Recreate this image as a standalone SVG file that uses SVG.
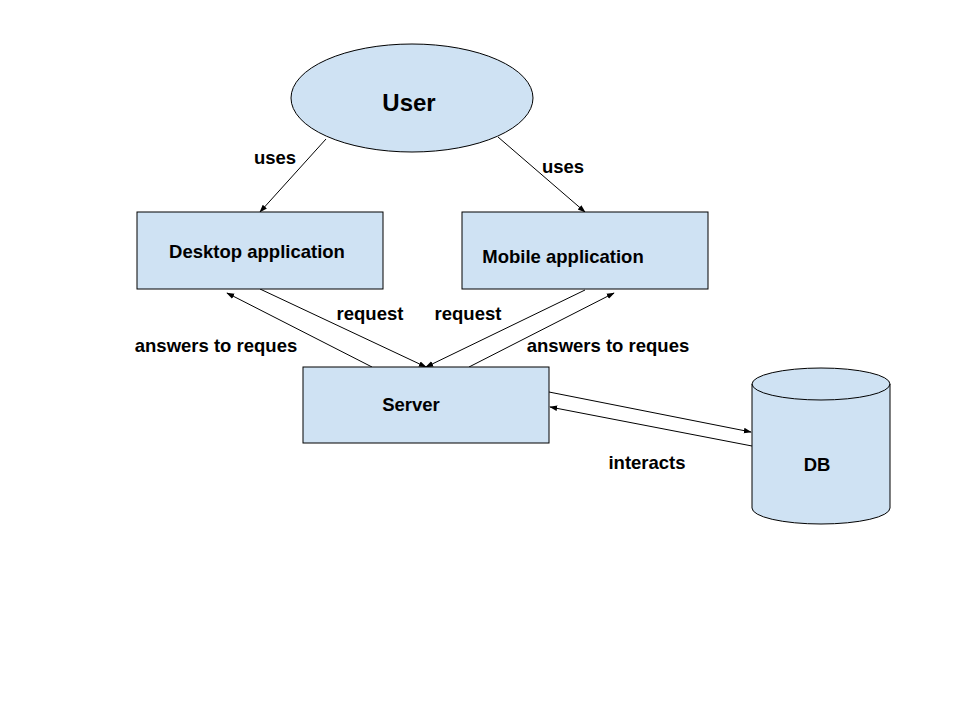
<svg xmlns="http://www.w3.org/2000/svg" width="960" height="720" viewBox="0 0 960 720">
<defs>
<style>
.n{fill:#cfe2f3;stroke:#000;stroke-width:1}
.t{font-family:"Liberation Sans",Arial,sans-serif;font-weight:bold;font-size:18.5px;fill:#000;text-anchor:middle}
.c{stroke:#000;stroke-width:1;fill:none;marker-end:url(#a)}
</style>
<marker id="a" viewBox="0 0 10 10" refX="9" refY="5" markerWidth="8" markerHeight="8" orient="auto" markerUnits="userSpaceOnUse">
<path d="M0,1.5 L10,5 L0,8.5 Z" fill="#000"/>
</marker>
</defs>
<rect width="960" height="720" fill="#fff"/>
<g id="connectors">
<line class="c" x1="326" y1="139" x2="260" y2="212"/>
<line class="c" x1="498" y1="137" x2="585" y2="212"/>
<line class="c" x1="260" y1="289" x2="426" y2="367"/>
<line class="c" x1="372" y1="367" x2="227" y2="293"/>
<line class="c" x1="585" y1="290" x2="426" y2="367"/>
<line class="c" x1="469" y1="367" x2="614" y2="293"/>
<line class="c" x1="549" y1="392" x2="751" y2="432"/>
<line class="c" x1="752" y1="446" x2="550" y2="407"/>
</g>
<g id="user">
<ellipse class="n" cx="412" cy="98" rx="121" ry="54"/>
<text class="t" x="409" y="111" style="font-size:24px">User</text>
</g>
<g id="desktop">
<rect class="n" x="137" y="212" width="246" height="77"/>
<text class="t" x="257" y="258">Desktop application</text>
</g>
<g id="mobile">
<rect class="n" x="462" y="212" width="246" height="77"/>
<text class="t" x="563" y="263">Mobile application</text>
</g>
<g id="server">
<rect class="n" x="303" y="367" width="246" height="76"/>
<text class="t" x="411" y="411">Server</text>
</g>
<g id="db">
<path class="n" d="M752,384 L752,508 A69,16 0 0 0 890,508 L890,384 A69,16 0 0 0 752,384 Z"/>
<path d="M752,384 A69,16 0 0 0 890,384" fill="none" stroke="#000"/>
<text class="t" x="817" y="471">DB</text>
</g>
<g id="labels">
<text class="t" x="275" y="164">uses</text>
<text class="t" x="563" y="173">uses</text>
<text class="t" x="370" y="320">request</text>
<text class="t" x="468" y="320">request</text>
<text class="t" x="216" y="352">answers to reques</text>
<text class="t" x="608" y="352">answers to reques</text>
<text class="t" x="647" y="469">interacts</text>
</g>
</svg>
